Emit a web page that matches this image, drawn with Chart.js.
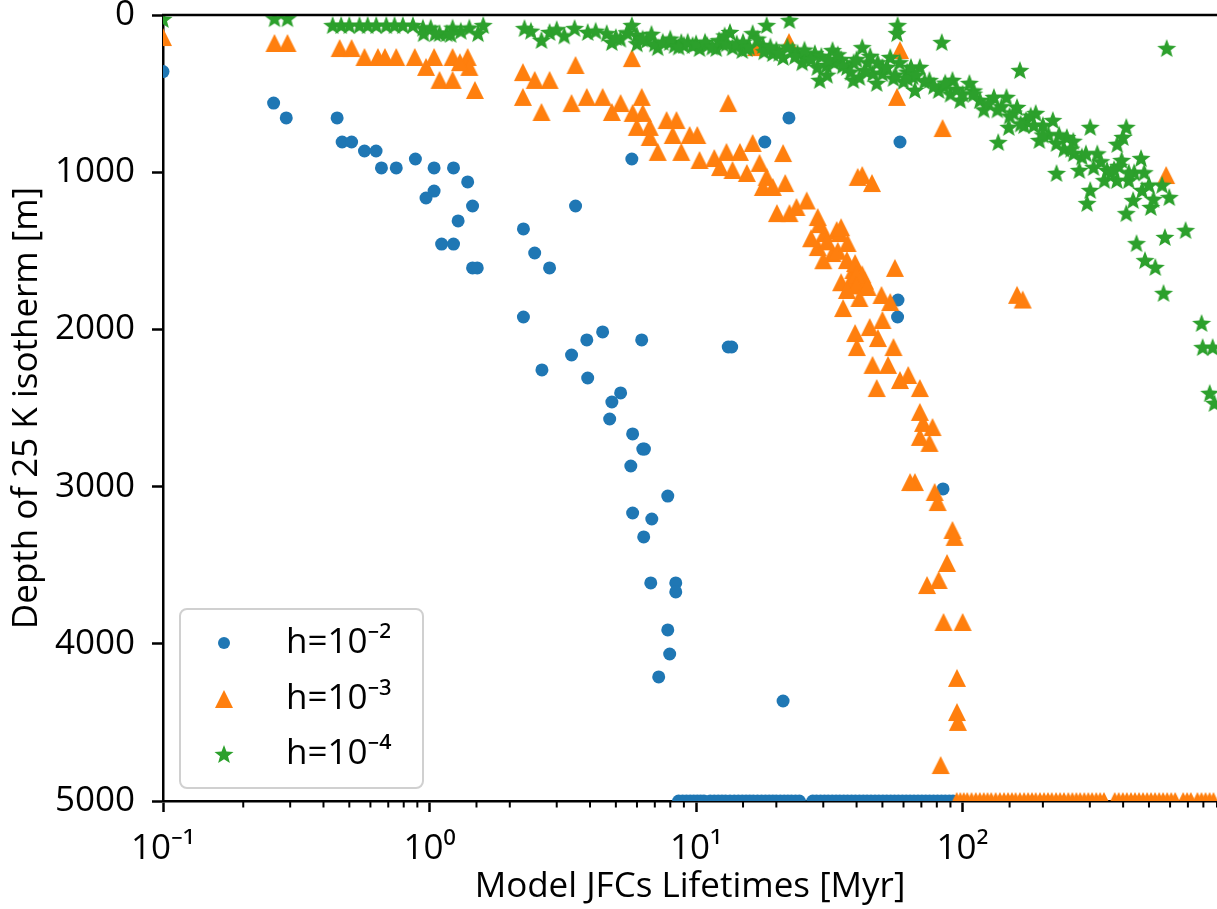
<!DOCTYPE html>
<html>
<head>
<meta charset="utf-8">
<script src="https://cdn.jsdelivr.net/npm/chart.js@4.4.0/dist/chart.umd.min.js"></script>
<style>
  html, body { margin: 0; padding: 0; background: #fff; }
</style>
</head>
<body>
<canvas id="lifetimeChart" width="1217" height="909"></canvas>
<script>
// lifetimes [Myr] and depths [m], one pair of arrays per h value
const lifeH2 = [0.1, 0.26, 0.29, 0.45, 0.47, 0.51, 0.57, 0.63, 0.66, 0.75, 0.885, 1.04, 1.23, 1.39, 1.04, 0.97, 1.45, 1.28, 1.11, 1.23, 1.45, 1.51,
  22.3, 18.1, 5.74, 3.53, 2.25, 2.48, 2.82, 58.2, 2.25, 2.64, 4.46, 3.89, 3.41, 3.92, 6.25, 13.2, 13.6, 5.21, 4.83, 4.74, 5.78, 6.31, 6.4, 5.69,
  7.83, 5.78, 6.82, 6.36, 6.76, 8.39, 8.39, 7.83, 7.96, 7.24, 21.2, 57.2, 57, 84.4,
  8.6, 8.9, 9.2, 9.5, 9.8, 10.1, 10.4, 10.7, 11.3, 11.7, 12.1, 12.5, 12.9, 13.4, 13.9, 14.4, 14.9, 15.4, 15.9, 16.4, 17.0, 17.6, 18.2, 18.8,
  19.4, 20.0, 20.7, 21.4, 22.1, 22.8, 23.6, 24.4, 27.4, 28.3, 29.3, 30.3, 31.3, 32.4, 33.5, 34.6, 35.8, 37.0, 38.3, 39.6, 41.0, 42.4,
  43.8, 45.3, 46.9, 48.5, 50.2, 51.9, 53.7, 55.5, 57.4, 59.4, 61.4, 63.5, 65.7, 68.0, 70.3, 72.7, 75.2, 77.8, 80.5, 83.3, 86.1, 89.1, 92.0];
const depthH2 = [360, 560, 655, 655, 808, 808, 865, 865, 973, 973, 916, 973, 973, 1062, 1120, 1164, 1215, 1310, 1457, 1457, 1609, 1609,
  655, 808, 916, 1215, 1361, 1514, 1609, 808, 1921, 2258, 2016, 2067, 2163, 2309, 2067, 2112, 2112, 2404, 2462, 2570, 2665, 2761, 2761, 2869,
  3060, 3168, 3206, 3320, 3613, 3613, 3670, 3912, 4065, 4211, 4364, 1813, 1921, 3015,
  5000, 5000, 5000, 5000, 5000, 5000, 5000, 5000, 5000, 5000, 5000, 5000, 5000, 5000, 5000, 5000, 5000, 5000, 5000, 5000, 5000, 5000, 5000, 5000,
  5000, 5000, 5000, 5000, 5000, 5000, 5000, 5000, 5000, 5000, 5000, 5000, 5000, 5000, 5000, 5000, 5000, 5000, 5000, 5000, 5000, 5000,
  5000, 5000, 5000, 5000, 5000, 5000, 5000, 5000, 5000, 5000, 5000, 5000, 5000, 5000, 5000, 5000, 5000, 5000, 5000, 5000, 5000, 5000, 5000];

const lifeH3 = [0.1, 0.262, 0.293, 0.46, 0.51, 0.57, 0.64, 0.68, 0.75, 0.88, 1.04, 1.22, 1.39, 0.97, 1.09, 1.22, 1.41, 1.48, 1.3,
  2.24, 2.48, 2.82, 2.24, 2.63, 3.53, 5.74, 3.41, 3.89, 4.46, 4.83, 5.21, 6.25, 5.78, 6.31, 5.99, 6.7, 6.7, 7.18, 7.75, 8.44, 8.17, 8.8,
  9.46, 10.1, 10.3, 11.7, 13.0, 13.2, 14.6, 13.7, 12.3, 15.5, 16.3, 17.3, 18.4, 17.8, 19.4, 21.2, 21.6, 20.1, 22.4, 23.8, 28.6, 30.3, 33.7,
  28.6, 32.5, 36.8, 38.9, 40.4, 58.2, 56.7, 84.1, 42.0, 45.7, 580, 34.6, 39.5, 55.7, 16.8, 22.3, 160, 168,
  26, 29, 31, 34, 37, 30, 42, 27, 35, 38, 43, 40, 35, 40, 44,
  36.8, 41.0, 49.6, 53.5, 35.6, 39.5, 44.8, 50.0, 48.1, 55.0, 40.1, 45.9, 52.5, 62.5, 58.2, 69.1, 47.6, 69.1, 71.0, 77.1, 69.1, 75.1,
  66.2, 63.5, 78.5, 80.6, 91.6, 93.3, 87.4, 73.5, 81.3, 84.8, 100, 95.2, 95.2, 96, 82.7,
  95, 98, 101, 104, 108, 112, 116, 120, 124, 128, 133, 138, 143, 148, 153, 158, 164, 170, 176, 182, 188, 195, 202, 209, 216, 224, 232,
  240, 249, 258, 267, 276, 286, 296, 306, 317, 328, 339, 372, 385, 399, 413, 428, 443, 459, 475, 492, 509, 527, 546, 565, 585, 606, 627,
  672, 695, 718, 760, 787, 815, 844, 873, 900];
const depthH3 = [140, 178, 178, 210, 210, 267, 267, 267, 267, 267, 267, 267, 267, 330, 413, 413, 330, 477, 300,
  363, 413, 413, 521, 617, 318, 274, 560, 521, 521, 617, 560, 521, 623, 623, 712, 712, 776, 871, 668, 668, 763, 871,
  763, 763, 922, 910, 871, 560, 871, 986, 967, 1005, 814, 941, 1030, 1094, 1094, 878, 1069, 1260, 1260, 1221, 1285, 1387, 1368,
  1476, 1514, 1559, 1622, 1030, 223, 521, 719, 1018, 1069, 1018, 1387, 1578, 1609, 204, 172, 1780, 1810,
  1180, 1330, 1440, 1500, 1450, 1560, 1650, 1420, 1350, 1690, 1690, 1650, 1700, 1720, 1730,
  1749, 1800, 1781, 1826, 1864, 2023, 1985, 1940, 2055, 2112, 2112, 2226, 2226, 2290, 2322, 2373, 2373, 2525, 2595, 2621, 2684, 2722,
  2971, 2971, 3034, 3098, 3276, 3320, 3486, 3626, 3594, 3861, 3861, 4217, 4434, 4497, 4771,
  5000, 5000, 5000, 5000, 5000, 5000, 5000, 5000, 5000, 5000, 5000, 5000, 5000, 5000, 5000, 5000, 5000, 5000, 5000, 5000, 5000, 5000, 5000, 5000, 5000, 5000, 5000,
  5000, 5000, 5000, 5000, 5000, 5000, 5000, 5000, 5000, 5000, 5000, 5000, 5000, 5000, 5000, 5000, 5000, 5000, 5000, 5000, 5000, 5000, 5000, 5000, 5000, 5000,
  5000, 5000, 5000, 5000, 5000, 5000, 5000, 5000, 5000];

const lifeH4 = [0.1, 0.262, 0.293, 0.433, 0.466, 0.50, 0.546, 0.586, 0.631, 0.688, 0.739, 0.794, 0.866, 0.944, 1.01, 1.09, 1.16, 1.22, 1.31, 1.41, 1.52, 1.59, 0.95, 1.05, 1.2,
  2.27, 2.63, 2.82, 3.50, 3.92, 4.62, 4.83, 5.74, 5.99, 6.52, 7.18, 7.96, 8.8, 9.7, 10.3, 11.9, 13.4, 13.7, 14.9, 16.3, 18.4, 17.8, 19.4, 21.2, 22.4, 23.0,
  27.9, 29.1, 30.8, 32.5, 36.8, 38.9,
  5.2, 6.0, 7.0, 8.3, 9.0, 11.0, 12.6, 15.5, 18.0, 20.0, 24, 25, 26, 28.5, 31, 33, 35, 39, 44, 46, 50, 55, 60, 65,
  57.0, 56.7, 83.5, 42.0, 41.0, 47.6, 53.5, 50.0, 69.1, 66.2, 75.1, 81.3, 91.6, 97.9, 106, 116, 131, 146, 160, 164, 136, 149, 173, 188, 218,
  194, 225, 246, 261, 301, 274, 310, 301, 293, 225, 348, 379, 395, 411, 399, 467, 471, 436, 411, 508, 596, 449, 574, 686, 483, 528, 583,
  567, 788, 795, 867, 845, 880,
  62, 85, 90, 110, 120, 140, 155, 170, 180, 200, 210, 240, 260, 280, 320, 340, 360, 385, 420, 440, 500, 520, 380,
  2.4, 3.0, 3.2, 4.2, 5.0, 5.5, 6.3, 6.8, 7.5, 8.0, 8.6, 9.3, 10.0, 10.8, 11.5, 12.2, 12.8, 13.0, 14.2, 15.0, 15.8, 17.0, 19.0, 20.5,
  22.0, 23.5, 25.5, 27.0, 29.5, 31.5, 34.0, 35.5, 38.0, 40.0, 43.0, 45.0, 48.0, 52.0, 56.0, 58.0, 62.0, 64.0, 67.0, 72.0, 78.0, 86.0,
  95.0, 100, 110, 125, 135, 150, 165, 185, 200, 230, 255, 290, 330, 370, 420, 480, 560];
const depthH4 = [25, 20, 20, 64, 64, 64, 64, 64, 64, 64, 64, 64, 64, 80, 80, 115, 115, 80, 100, 80, 115, 64, 115, 115, 120,
  83, 159, 108, 83, 108, 115, 172, 64, 127, 159, 204, 172, 172, 191, 210, 210, 108, 204, 223, 115, 64, 191, 242, 267, 32, 223,
  242, 413, 318, 223, 330, 413,
  150, 180, 180, 190, 190, 190, 180, 210, 230, 220, 240, 300, 260, 330, 380, 300, 280, 300, 300, 370, 370, 400, 420, 390,
  64, 115, 172, 204, 394, 432, 267, 330, 330, 477, 413, 477, 413, 540, 432, 540, 521, 521, 585, 350, 808, 712, 668, 623, 668,
  795, 814, 776, 878, 712, 986, 967, 1113, 1196, 1005, 986, 1050, 922, 712, 776, 910, 1113, 1177, 1260, 1221, 1158, 1451, 1412, 1368, 1559, 1603, 210,
  1768, 1959, 2112, 2112, 2404, 2468,
  360, 450, 500, 480, 600, 580, 620, 700, 640, 700, 760, 850, 800, 900, 880, 1050, 1000, 960, 1050, 1000, 1080, 1170, 820,
  100, 90, 130, 100, 140, 110, 150, 120, 170, 150, 200, 170, 180, 170, 200, 160, 130, 180, 180, 170, 200, 150, 200, 240,
  200, 260, 220, 280, 260, 280, 250, 320, 360, 280, 350, 260, 300, 330, 380, 300, 400, 330, 380, 420, 450, 430,
  470, 500, 500, 560, 600, 640, 690, 700, 760, 760, 850, 880, 930, 980, 1000, 1000, 1080];

const yTicks = [0, 1000, 2000, 3000, 4000, 5000];
const seriesLabels = ['h=10⁻²', 'h=10⁻³', 'h=10⁻⁴'];
const seriesColors = ['#1f77b4', '#ff7f0e', '#2ca02c'];
const supDigits = {'-': '⁻', '0': '⁰', '1': '¹', '2': '²', '3': '³', '4': '⁴'};
const FONT = '"Open Sans", "Noto Sans", sans-serif';
const FS = 35;

function toPoints(xs, ys) {
  return xs.map((x, i) => ({ x: x, y: ys[i] }));
}

function triangleImage(size, color) {
  const c = document.createElement('canvas');
  c.width = size + 2; c.height = size + 2;
  const g = c.getContext('2d');
  g.fillStyle = color;
  g.beginPath();
  g.moveTo(1 + size / 2, 1);
  g.lineTo(1 + size, 1 + size);
  g.lineTo(1, 1 + size);
  g.closePath();
  g.fill();
  return c;
}

function starImage(r, color) {
  const s = Math.ceil(r * 2 + 2);
  const c = document.createElement('canvas');
  c.width = s; c.height = s;
  const g = c.getContext('2d');
  g.fillStyle = color;
  g.beginPath();
  for (let i = 0; i < 10; i++) {
    const rr = i % 2 === 0 ? r : r * 0.42;
    const a = -Math.PI / 2 + i * Math.PI / 5;
    g.lineTo(s / 2 + rr * Math.cos(a), s / 2 + 1 + rr * Math.sin(a));
  }
  g.closePath();
  g.fill();
  return c;
}

const triImg = triangleImage(18, seriesColors[1]);
const starImg = starImage(10, seriesColors[2]);
const markerStyles = ['circle', triImg, starImg];

function isDecade(v) {
  const l = Math.log10(v);
  return Math.abs(l - Math.round(l)) < 1e-6;
}

function decadeLabel(v) {
  const e = String(Math.round(Math.log10(v)));
  return '10' + e.split('').map(ch => supDigits[ch]).join('');
}

// frame on top + minor ticks on the log axis + legend box inside the plot
const framePlugin = {
  id: 'frame',
  afterDraw(chart) {
    const ctx = chart.ctx;
    const a = chart.chartArea;
    const xs = chart.scales.x;
    ctx.save();
    ctx.strokeStyle = '#000';
    ctx.lineWidth = 2.5;
    ctx.beginPath();
    ctx.moveTo(a.left - 1, a.top);
    ctx.lineTo(a.right, a.top);
    ctx.stroke();
    ctx.lineWidth = 2;
    xs.ticks.forEach(t => {
      if (isDecade(t.value)) return;
      const px = xs.getPixelForValue(t.value);
      ctx.beginPath();
      ctx.moveTo(px, a.bottom);
      ctx.lineTo(px, a.bottom + 6.5);
      ctx.stroke();
    });

    // legend
    const bx = a.left + 17, by = a.bottom - 192, bw = 243, bh = 179;
    ctx.fillStyle = 'rgba(255,255,255,0.8)';
    ctx.strokeStyle = '#d0d0d0';
    ctx.lineWidth = 2;
    ctx.beginPath();
    ctx.roundRect(bx, by, bw, bh, 7);
    ctx.fill();
    ctx.stroke();
    ctx.font = FS + 'px ' + FONT;
    ctx.textBaseline = 'middle';
    ctx.textAlign = 'left';
    const rowY = [by + 34, by + 90, by + 145];
    seriesLabels.forEach((lab, i) => {
      const mx = bx + 44, my = rowY[i];
      const st = markerStyles[i];
      if (st === 'circle') {
        ctx.fillStyle = seriesColors[0];
        ctx.beginPath();
        ctx.arc(mx, my, 6, 0, Math.PI * 2);
        ctx.fill();
      } else {
        ctx.drawImage(st, mx - st.width / 2, my - st.height / 2);
      }
      ctx.fillStyle = '#000';
      ctx.fillText(lab, bx + 106, my);
    });
    ctx.restore();
  }
};

const datasets = [lifeH2, lifeH3, lifeH4].map((xs, i) => ({
  label: seriesLabels[i],
  data: toPoints(xs, [depthH2, depthH3, depthH4][i]),
  backgroundColor: seriesColors[i],
  borderColor: seriesColors[i],
  borderWidth: 0,
  pointStyle: markerStyles[i],
  pointRadius: i === 0 ? 6.5 : 10,
  pointHoverRadius: i === 0 ? 6.5 : 10,
  order: 3 - i,
  clip: 0
}));

const ctx = document.getElementById('lifetimeChart').getContext('2d');
const lifetimeChart = new Chart(ctx, {
  type: 'scatter',
  data: { datasets: datasets },
  plugins: [framePlugin],
  options: {
    responsive: false,
    devicePixelRatio: 1,
    animation: false,
    layout: { autoPadding: false, padding: { top: 15, left: 0, right: 0, bottom: 0 } },
    plugins: {
      legend: { display: false },
      tooltip: { enabled: false }
    },
    scales: {
      x: {
        type: 'logarithmic',
        min: 0.1,
        max: 900,
        afterFit: (s) => { s.height = 108; s.paddingLeft = 0; s.paddingRight = 0; },
        border: { display: true, color: '#000', width: 2.5 },
        grid: {
          drawOnChartArea: false,
          drawTicks: true,
          tickLength: 11,
          tickWidth: 2.5,
          tickColor: (c) => (c.tick && isDecade(c.tick.value)) ? '#000' : 'rgba(0,0,0,0)'
        },
        ticks: {
          autoSkip: false,
          maxRotation: 0,
          padding: 16,
          color: '#000',
          font: { family: FONT, size: FS },
          callback: (v) => isDecade(v) ? decadeLabel(v) : ''
        },
        title: {
          display: true,
          text: 'Model JFCs Lifetimes [Myr]',
          color: '#000',
          font: { family: FONT, size: FS },
          padding: { top: 0, bottom: 1 }
        }
      },
      y: {
        reverse: true,
        min: yTicks[0],
        max: yTicks[yTicks.length - 1],
        afterFit: (s) => { s.width = 163; s.paddingTop = 0; s.paddingBottom = 0; },
        afterBuildTicks: (s) => { s.ticks = yTicks.map(v => ({ value: v })); },
        border: { display: true, color: '#000', width: 2.5 },
        grid: {
          drawOnChartArea: false,
          drawTicks: true,
          tickLength: 11,
          tickWidth: 2.5,
          tickColor: '#000'
        },
        ticks: {
          padding: 17,
          color: '#000',
          font: { family: FONT, size: FS },
          callback: (v) => String(v)
        },
        title: {
          display: true,
          text: 'Depth of 25 K isotherm [m]',
          color: '#000',
          font: { family: FONT, size: FS },
          padding: { top: 6, bottom: 0 }
        }
      }
    }
  }
});
</script>
</body>
</html>
